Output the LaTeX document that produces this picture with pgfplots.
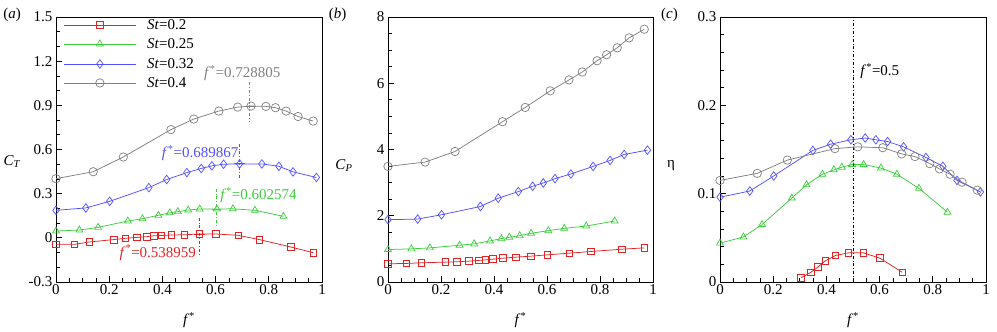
\documentclass[border=0pt]{standalone}
\usepackage{fontspec}
\setmainfont{Liberation Serif}
\usepackage{pgfplots}
\pgfplotsset{compat=1.18}
\definecolor{cr}{RGB}{225,35,35}
\definecolor{cg}{RGB}{60,205,60}
\definecolor{cb}{RGB}{80,80,255}
\definecolor{cgr}{RGB}{128,128,128}
\newcommand{\fs}{\fontsize{15}{16}\selectfont}
\newcommand{\fstar}{\textit{f}\textsuperscript{*}}
\pgfplotsset{
  myaxis/.style={
    scale only axis, width=266pt, height=265pt, anchor=south west,
    clip=false,
    axis line style={line width=0.9pt},
    tick align=inside, xtick pos=left, ytick pos=left,
    major tick length=6pt, minor tick length=3.5pt,
    every tick/.style={black, line width=0.7pt},
    xmin=0, xmax=1, xtick={0,0.2,0.4,0.6,0.8,1},
    xticklabels={0,0.2,0.4,0.6,0.8,1}, minor x tick num=3,
    ticklabel style={font=\fs},
    xticklabel style={yshift=1pt},
    /pgf/number format/assume math mode=true,
    xlabel={\fstar}, xlabel style={font=\fs, at={(axis description cs:0.5,-0.143)}, anchor=center},
    ylabel style={font=\fs, rotate=-90, anchor=center},
    every axis plot/.append style={line width=0.75pt, mark options={solid, line width=0.7pt, fill=none}},
  },
  sr/.style={cr, mark=square, mark size=3.3pt},
  sg/.style={cg, mark=triangle, mark size=4pt},
  sb/.style={cb, mark=diamond, mark size=4.3pt},
  sk/.style={cgr, mark=o, mark size=4.2pt},
}
\begin{document}
\begin{tikzpicture}[x=1pt,y=1pt]
\useasboundingbox (0,0) rectangle (997,332);
% ---------------- (a)
\begin{axis}[myaxis, at={(56pt,50pt)},
  ymin=-0.3, ymax=1.5, ytick={-0.3,0,0.3,0.6,0.9,1.2,1.5},
  yticklabels={-0.3,0,0.3,0.6,0.9,1.2,1.5}, minor y tick num=2,
  ylabel={\textit{C}\textsubscript{\textit{T}}},
  ylabel style={at={(axis description cs:-0.165,0.453)}},
]
\addplot[sr] coordinates {(0,-0.044)(0.069,-0.044)(0.126,-0.028)(0.217,-0.012)(0.260,-0.003)(0.305,0.003)(0.342,0.008)(0.368,0.014)(0.396,0.016)(0.434,0.019)(0.483,0.021)(0.539,0.026)(0.601,0.026)(0.685,0.017)(0.765,-0.012)(0.882,-0.062)(0.967,-0.101)};
\addplot[sg] coordinates {(0,0.046)(0.088,0.053)(0.158,0.071)(0.270,0.114)(0.325,0.130)(0.385,0.153)(0.428,0.170)(0.458,0.178)(0.497,0.189)(0.540,0.196)(0.605,0.196)(0.665,0.197)(0.748,0.187)(0.855,0.146)};
\addplot[sb] coordinates {(0,0.187)(0.112,0.203)(0.202,0.248)(0.349,0.341)(0.416,0.396)(0.492,0.443)(0.546,0.471)(0.586,0.489)(0.630,0.500)(0.690,0.502)(0.774,0.502)(0.838,0.486)(0.891,0.448)(0.979,0.410)};
\addplot[sk] coordinates {(0,0.402)(0.14,0.449)(0.253,0.549)(0.432,0.735)(0.518,0.807)(0.612,0.861)(0.683,0.888)(0.733,0.895)(0.789,0.893)(0.825,0.884)(0.865,0.861)(0.910,0.824)(0.967,0.793)};
% legend (drawn in axis coordinates)
\addplot[sr, mark repeat=2, mark phase=2] coordinates {(0.03,1.446)(0.165,1.446)(0.30,1.446)};
\addplot[sg, mark repeat=2, mark phase=2] coordinates {(0.03,1.317)(0.165,1.317)(0.30,1.317)};
\addplot[sb, mark repeat=2, mark phase=2] coordinates {(0.03,1.181)(0.165,1.181)(0.30,1.181)};
\addplot[sk, mark repeat=2, mark phase=2] coordinates {(0.03,1.052)(0.165,1.052)(0.30,1.052)};
\node[font=\fs, anchor=west, inner sep=0pt] at (axis cs:0.342,1.446) {\textit{St}=0.2};
\node[font=\fs, anchor=west, inner sep=0pt] at (axis cs:0.342,1.317) {\textit{St}=0.25};
\node[font=\fs, anchor=west, inner sep=0pt] at (axis cs:0.342,1.181) {\textit{St}=0.32};
\node[font=\fs, anchor=west, inner sep=0pt] at (axis cs:0.342,1.052) {\textit{St}=0.4};
% annotations
\addplot[cgr, dash dot, no marks, line width=0.8pt] coordinates {(0.7288,1.058)(0.7288,0.787)};
\addplot[cgr, no marks, line width=0.8pt] coordinates {(0.71,0.895)(0.75,0.895)};
\addplot[cb, dash dot, no marks, line width=0.9pt] coordinates {(0.6899,0.64)(0.6899,0.40)};
\addplot[cb, no marks, line width=0.9pt] coordinates {(0.67,0.502)(0.71,0.502)};
\addplot[cg, dash dot, no marks, line width=0.9pt] coordinates {(0.6026,0.334)(0.6026,0.085)};
\addplot[cg, no marks, line width=0.9pt] coordinates {(0.585,0.196)(0.62,0.196)};
\addplot[cr, dash dot, no marks, line width=0.9pt] coordinates {(0.539,0.137)(0.539,-0.125)};
\addplot[cr, no marks, line width=0.9pt] coordinates {(0.52,0.026)(0.56,0.026)};
\node[cgr, font=\fs, anchor=west, inner sep=0pt] at (axis cs:0.556,1.12) {\fstar=0.728805};
\node[cb, font=\fs, anchor=east, inner sep=0pt] at (axis cs:0.686,0.575) {\fstar=0.689867};
\node[cg, font=\fs, anchor=west, inner sep=0pt] at (axis cs:0.617,0.29) {\fstar=0.602574};
\node[cr, font=\fs, anchor=east, inner sep=0pt] at (axis cs:0.527,-0.10) {\fstar=0.538959};
\node[font=\fs] at (axis description cs:-0.165,1.008) {(\textit{a})};
\end{axis}
% ---------------- (b)
\begin{axis}[myaxis, at={(388pt,50pt)}, width=265pt,
  ymin=0, ymax=8, ytick={0,2,4,6,8}, yticklabels={0,2,4,6,8}, minor y tick num=3,
  ylabel={\textit{C}\textsubscript{\textit{P}}},
  ylabel style={at={(axis description cs:-0.166,0.44)}},
]
\addplot[sr] coordinates {(0,0.55)(0.069,0.56)(0.126,0.58)(0.217,0.60)(0.260,0.61)(0.305,0.63)(0.342,0.65)(0.368,0.67)(0.396,0.69)(0.434,0.72)(0.483,0.75)(0.539,0.78)(0.601,0.82)(0.685,0.87)(0.765,0.92)(0.882,0.99)(0.967,1.03)};
\addplot[sg] coordinates {(0,0.98)(0.088,1.00)(0.158,1.03)(0.270,1.11)(0.325,1.15)(0.385,1.24)(0.428,1.31)(0.458,1.35)(0.497,1.40)(0.540,1.47)(0.605,1.55)(0.665,1.62)(0.748,1.69)(0.855,1.84)};
\addplot[sb] coordinates {(0,1.88)(0.112,1.90)(0.202,2.03)(0.349,2.28)(0.416,2.53)(0.492,2.73)(0.546,2.89)(0.586,2.99)(0.630,3.12)(0.690,3.26)(0.774,3.49)(0.838,3.67)(0.891,3.85)(0.979,3.98)};
\addplot[sk] coordinates {(0,3.49)(0.14,3.62)(0.253,3.94)(0.432,4.84)(0.518,5.27)(0.612,5.77)(0.683,6.10)(0.733,6.34)(0.789,6.68)(0.825,6.86)(0.865,7.07)(0.910,7.37)(0.967,7.63)};
\node[font=\fs] at (axis description cs:-0.19,1.008) {(\textit{b})};
\end{axis}
% ---------------- (c)
\begin{axis}[myaxis, at={(720pt,50pt)},
  ymin=0, ymax=0.3, ytick={0,0.1,0.2,0.3}, yticklabels={0,0.1,0.2,0.3}, minor y tick num=4,
  ylabel={η},
  ylabel style={at={(axis description cs:-0.184,0.44)}},
]
\addplot[sr] coordinates {(0.305,0.005)(0.342,0.011)(0.368,0.017)(0.396,0.024)(0.434,0.030)(0.483,0.033)(0.539,0.033)(0.601,0.027)(0.685,0.011)};
\addplot[sg] coordinates {(0,0.044)(0.088,0.051)(0.158,0.065)(0.270,0.095)(0.325,0.110)(0.385,0.122)(0.428,0.127)(0.458,0.130)(0.497,0.133)(0.540,0.133)(0.605,0.129)(0.665,0.122)(0.748,0.106)(0.855,0.079)};
\addplot[sb] coordinates {(0,0.096)(0.112,0.103)(0.202,0.120)(0.349,0.149)(0.416,0.156)(0.492,0.161)(0.546,0.163)(0.586,0.161)(0.630,0.159)(0.690,0.153)(0.774,0.141)(0.838,0.131)(0.891,0.115)(0.979,0.102)};
\addplot[sk] coordinates {(0,0.115)(0.14,0.123)(0.253,0.138)(0.432,0.151)(0.518,0.153)(0.612,0.152)(0.683,0.145)(0.733,0.142)(0.789,0.134)(0.825,0.128)(0.865,0.122)(0.910,0.113)(0.967,0.104)};
\addplot[black, dash dot, no marks, line width=0.9pt] coordinates {(0.5,0)(0.5,0.3)};
\node[font=\fs, anchor=west, inner sep=0pt] at (axis cs:0.527,0.239) {\fstar=0.5};
\node[font=\fs] at (axis description cs:-0.19,1.008) {(\textit{c})};
\end{axis}
\end{tikzpicture}
\end{document}
